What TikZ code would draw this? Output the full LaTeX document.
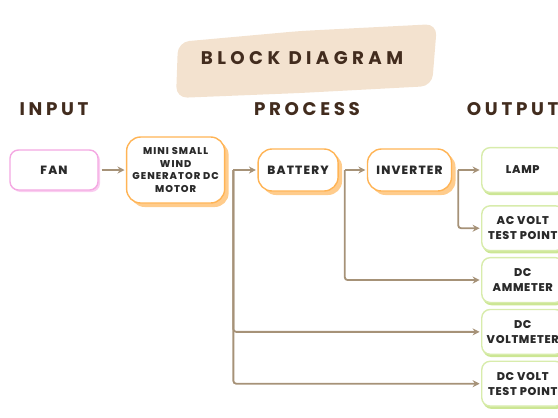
\documentclass[tikz,border=0pt]{standalone}
\usepackage{fontspec}
\setmainfont{Poppins}
\newfontfamily\headfont[LetterSpace=20]{Poppins}
\newfontfamily\titlefont[LetterSpace=24]{Poppins}
\newfontfamily\boxfont[LetterSpace=10, BoldFont={Poppins ExtraBold}]{Poppins}
\newfontfamily\outfont[LetterSpace=6, BoldFont={Poppins ExtraBold}]{Poppins}
\usetikzlibrary{positioning,arrows.meta,shadows}
\definecolor{headBrown}{RGB}{66,44,30}
\definecolor{boxText}{RGB}{42,42,42}
\definecolor{blobBeige}{RGB}{243,226,207}
\definecolor{lineBrown}{RGB}{166,146,120}
\definecolor{procOrange}{RGB}{255,180,85}
\definecolor{procShade}{RGB}{255,204,140}
\definecolor{fanPink}{RGB}{244,168,226}
\definecolor{fanShade}{RGB}{250,205,240}
\definecolor{outGreen}{RGB}{216,236,172}
\definecolor{outShade}{RGB}{204,230,148}

\begin{document}
\begin{tikzpicture}[x=0.025cm, y=-0.025cm,
    box/.style={draw, fill=white, line width=1pt, align=center, inner sep=2pt, text=boxText,
      font=\boxfont\bfseries\fontsize{8.5}{10.5}\selectfont},
    inbox/.style={box, draw=fanPink, rounded corners=6pt, minimum width=2.2cm, minimum height=1cm,
      drop shadow={shadow xshift=0.05cm, shadow yshift=-0.05cm, fill=fanShade, opacity=1}},
    procbox/.style={box, draw=procOrange, rounded corners=10pt, minimum height=1.05cm,
      drop shadow={shadow xshift=0.1cm, shadow yshift=-0.1cm, fill=procShade, opacity=1}},
    outbox/.style={box, draw=outGreen, rounded corners=6pt, minimum width=2.05cm, minimum height=1.12cm,
      font=\outfont\bfseries\fontsize{8}{10.5}\selectfont,
      drop shadow={shadow xshift=0.03cm, shadow yshift=-0.07cm, fill=outShade, opacity=1}},
    heading/.style={text=headBrown, font=\headfont\bfseries\fontsize{13}{15}\selectfont},
    arrow/.style={-{Stealth[length=5pt, width=5pt]}, line width=1.3pt, lineBrown, rounded corners=2pt, shorten >=1pt},
  ]
  \useasboundingbox (0,0) rectangle (558,417);

  % title
  \fill[blobBeige, rounded corners=8pt] (178,42) -- (300,31) -- (437,24) -- (432,86) -- (300,93) -- (176,98) -- cycle;
  \node[text=headBrown, font=\titlefont\bfseries\fontsize{13}{15}\selectfont] (title) at (302,58) {BLOCK DIAGRAM};
  \node[heading] (input) at (54,109) {INPUT};
  \node[heading] (process) at (307,109) {PROCESS};
  \node[heading, anchor=west] (output) at (462,109) {OUTPUT};

  % blocks
  \node[inbox] (fan) at (54,170) {FAN};
  \node[procbox, minimum width=2.45cm, minimum height=1.65cm, right=0.68cm of fan,
    font=\boxfont\bfseries\fontsize{7}{9}\selectfont] (motor) {MINI SMALL\\WIND\\GENERATOR DC\\MOTOR};
  \node[procbox, minimum width=2cm, right=0.8cm of motor] (battery) {BATTERY};
  \node[procbox, minimum width=2.1cm, right=0.7cm of battery] (inverter) {INVERTER};
  \node[outbox, right=0.72cm of inverter] (lamp) {LAMP};
  \node[outbox, below=0.3cm of lamp] (acvolt) {AC VOLT\\TEST POINT};
  \node[outbox, below=0.14cm of acvolt] (ammeter) {DC\\AMMETER};
  \node[outbox, below=0.14cm of ammeter] (voltmeter) {DC\\VOLTMETER};
  \node[outbox, below=0.14cm of voltmeter] (dctest) {DC VOLT\\TEST POINT};

  % connectors
  \coordinate (motorsplit) at ([xshift=0.2cm]motor.east);
  \coordinate (batterysplit) at ([xshift=0.15cm]battery.east);
  \coordinate (invertersplit) at ([xshift=0.15cm]inverter.east);
  \draw[arrow, shorten <=2pt] (fan) -- (fan -| motor.west);
  \draw[arrow] (motorsplit) -- (battery);
  \draw[arrow] (motorsplit) |- (voltmeter);
  \draw[arrow] (motorsplit) |- (dctest);
  \draw[arrow] (batterysplit) -- (inverter);
  \draw[arrow] (batterysplit) |- (ammeter);
  \draw[arrow] (invertersplit) -- (lamp);
  \draw[arrow] (invertersplit) |- (acvolt);
\end{tikzpicture}
\end{document}
